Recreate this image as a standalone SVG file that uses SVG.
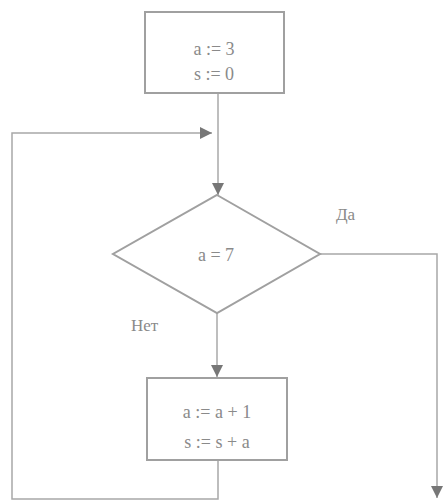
<svg xmlns="http://www.w3.org/2000/svg" width="447" height="501" viewBox="0 0 447 501">
<style>
.shape{fill:#fff;stroke:#a0a0a0;stroke-width:2}
.line{fill:none;stroke:#a8a8a8;stroke-width:1.5}
.t{font-family:"Liberation Serif",serif;font-size:18px;fill:#8a8a8a;text-anchor:middle}
.lbl{font-family:"Liberation Serif",serif;font-size:17px;fill:#8a8a8a}
</style>
<defs>
<marker id="ah" viewBox="0 0 10 10" refX="10" refY="5" markerWidth="12" markerHeight="12" markerUnits="userSpaceOnUse" orient="auto">
<path d="M0,0 L10,5 L0,10 z" fill="#777"/>
</marker>
</defs>
<rect width="447" height="501" fill="#fff"/>
<g id="connectors">
<path class="line" d="M218,93 V195" marker-end="url(#ah)"/>
<path class="line" d="M218,460 V499 H12 V133 H212" marker-end="url(#ah)"/>
<path class="line" d="M217,313 V377" marker-end="url(#ah)"/>
<path class="line" d="M320,254 H437 V498" marker-end="url(#ah)"/>
</g>
<g id="start">
<rect class="shape" x="145" y="12" width="139" height="81"/>
<text class="t" x="214" y="55">a := 3</text>
<text class="t" x="214" y="80">s := 0</text>
</g>
<g id="cond">
<polygon class="shape" points="217,195 320,254 217,313 113,254"/>
<text class="t" x="216" y="261">a = 7</text>
</g>
<g id="body">
<rect class="shape" x="147" y="378" width="140" height="82"/>
<text class="t" x="217" y="418">a := a + 1</text>
<text class="t" x="217" y="448">s := s + a</text>
</g>
<g id="labels">
<text class="lbl" x="336" y="220">Да</text>
<text class="lbl" x="131" y="331">Нет</text>
</g>
</svg>
